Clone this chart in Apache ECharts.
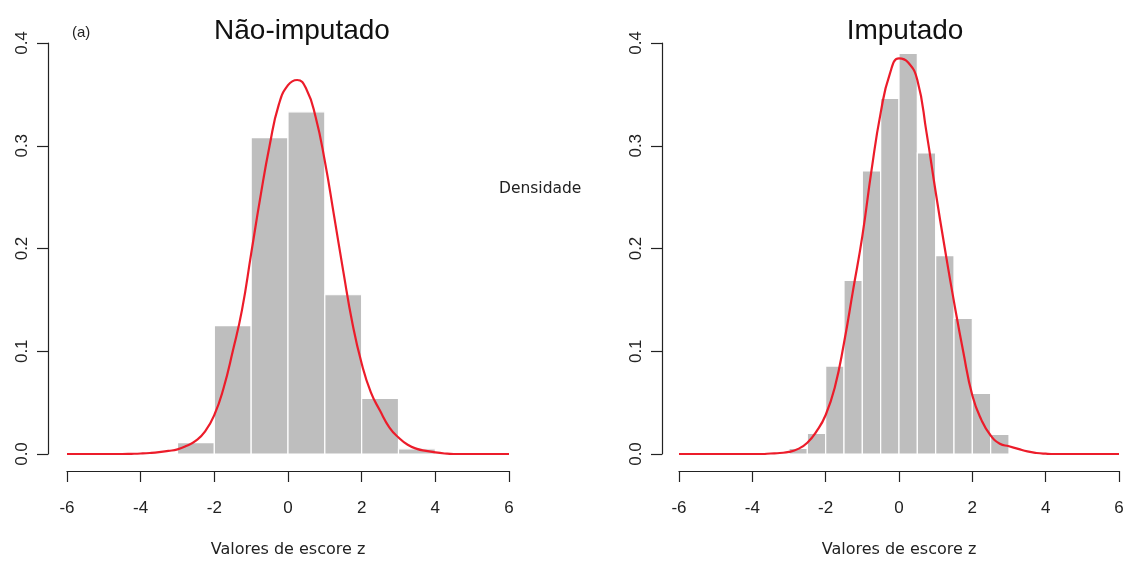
<!DOCTYPE html>
<html><head><meta charset="utf-8">
<script src="https://cdn.jsdelivr.net/npm/echarts@6/dist/echarts.min.js"></script>
<style>html,body{margin:0;padding:0;background:#fff}#c{width:1128px;height:563px}</style>
</head><body><div id="c"></div>
<script>
// Histogram bins [from, to] and densities – left panel (Não-imputado)
const leftBinEdges = [-3, -2, -1, 0, 1, 2, 3, 4];
const leftDensity = [0.011, 0.125, 0.308, 0.333, 0.155, 0.054, 0.005];
// Histogram bins – right panel (Imputado)
const rightBinEdges = [-3, -2.5, -2, -1.5, -1, -0.5, 0, 0.5, 1, 1.5, 2, 2.5, 3];
const rightDensity = [0.0055, 0.020, 0.0856, 0.169, 0.2755, 0.346, 0.390, 0.293, 0.193, 0.132, 0.059, 0.019];
// Density curves (x, y)
const leftCurveX = [-6, -4.5, -4.25, -4, -3.75, -3.5, -3.25, -3, -2.75, -2.5, -2.25, -2, -1.75, -1.5, -1.25, -1, -0.75, -0.5, -0.25, 0, 0.25, 0.5, 0.75, 1, 1.25, 1.5, 1.75, 2, 2.25, 2.5, 2.75, 3, 3.25, 3.5, 3.75, 4, 4.25, 4.5, 6];
const leftCurveY = [0, 0, 0.0002, 0.0005, 0.001, 0.0018, 0.003, 0.0045, 0.008, 0.013, 0.022, 0.038, 0.064, 0.100, 0.140, 0.195, 0.250, 0.300, 0.340, 0.359, 0.364, 0.355, 0.328, 0.285, 0.232, 0.178, 0.127, 0.088, 0.060, 0.042, 0.026, 0.016, 0.009, 0.005, 0.003, 0.0015, 0.0005, 0, 0];
const rightCurveX = [-6, -3.75, -3.5, -3.25, -3, -2.75, -2.5, -2.25, -2, -1.75, -1.5, -1.25, -1, -0.75, -0.5, -0.25, 0, 0.25, 0.5, 0.75, 1, 1.25, 1.5, 1.75, 2, 2.25, 2.5, 2.75, 3, 3.25, 3.5, 3.75, 4, 4.25, 6];
const rightCurveY = [0, 0, 0.0005, 0.001, 0.002, 0.005, 0.011, 0.022, 0.038, 0.065, 0.108, 0.160, 0.212, 0.276, 0.332, 0.370, 0.385, 0.381, 0.364, 0.313, 0.255, 0.200, 0.148, 0.100, 0.057, 0.033, 0.018, 0.010, 0.0075, 0.005, 0.0025, 0.001, 0.0003, 0, 0];
// Ticks and texts
const xTicks = [-6, -4, -2, 0, 2, 4, 6];
const yTicks = [0, 0.1, 0.2, 0.3, 0.4];
const titles = ['Não-imputado', 'Imputado'];
const xName = 'Valores de escore z';

function bins(edges, dens) { return dens.map((d, i) => [edges[i], edges[i + 1], d]); }
function pts(xs, ys) { return xs.map((x, i) => [x, ys[i]]); }

const FONT = 'Liberation Sans, Arial, sans-serif';
const FONT2 = 'DejaVu Sans, sans-serif';
const grids = [
  { left: 67, width: 442, top: 43, height: 411 },
  { left: 679, width: 440, top: 43, height: 411 }
];
const yOffsets = [19, 17];

function xAxis(i) {
  return {
    gridIndex: i, type: 'value', min: xTicks[0], max: xTicks[xTicks.length - 1], interval: 2, offset: 17,
    axisLine: { show: true, onZero: false, lineStyle: { color: '#222', width: 1.2 } },
    axisTick: { show: true, length: 11, inside: false, lineStyle: { color: '#222', width: 1.2 } },
    axisLabel: { color: '#222', fontSize: 17, fontFamily: FONT, margin: 29 },
    splitLine: { show: false },
    name: xName, nameLocation: 'middle', nameGap: 71,
    nameTextStyle: { color: '#222', fontSize: 16, fontFamily: FONT2 }
  };
}
function yAxis(i) {
  return {
    gridIndex: i, type: 'value', min: yTicks[0], max: yTicks[yTicks.length - 1], interval: 0.1, offset: yOffsets[i],
    axisLine: { show: true, onZero: false, lineStyle: { color: '#222', width: 1.2 } },
    axisTick: { show: true, length: 11, lineStyle: { color: '#222', width: 1.2 } },
    axisLabel: { color: '#222', fontSize: 17, fontFamily: FONT, rotate: 90, margin: 17,
      formatter: v => v.toFixed(1) },
    splitLine: { show: false }
  };
}
function histSeries(i, data) {
  return {
    type: 'custom', xAxisIndex: i, yAxisIndex: i, data: data,
    renderItem: function (params, api) {
      const p0 = api.coord([api.value(0), api.value(2)]);
      const p1 = api.coord([api.value(1), 0]);
      return { type: 'rect', shape: { x: p0[0], y: p0[1], width: p1[0] - p0[0], height: p1[1] - p0[1] },
        style: { fill: '#bebebe', stroke: '#ffffff', lineWidth: 1.2 } };
    },
    encode: { x: [0, 1], y: 2 }, z: 1
  };
}
function curveSeries(i, data) {
  return { type: 'line', xAxisIndex: i, yAxisIndex: i, data: data, smooth: 0.5, showSymbol: false,
    lineStyle: { color: '#ec1c2a', width: 2.2 }, z: 3 };
}

const chart = echarts.init(document.getElementById('c'), null, { renderer: 'canvas' });
chart.setOption({
  backgroundColor: '#ffffff',
  animation: false,
  title: [
    { text: titles[0], left: 297, top: 12, textAlign: 'center', textStyle: { fontSize: 28, fontWeight: 'normal', color: '#111', fontFamily: FONT } },
    { text: titles[1], left: 900, top: 12, textAlign: 'center', textStyle: { fontSize: 28, fontWeight: 'normal', color: '#111', fontFamily: FONT } }
  ],
  grid: grids,
  xAxis: [xAxis(0), xAxis(1)],
  yAxis: [yAxis(0), yAxis(1)],
  series: [
    histSeries(0, bins(leftBinEdges, leftDensity)),
    curveSeries(0, pts(leftCurveX, leftCurveY)),
    histSeries(1, bins(rightBinEdges, rightDensity)),
    curveSeries(1, pts(rightCurveX, rightCurveY))
  ],
  graphic: [
    { type: 'text', left: 72, top: 25, style: { text: '(a)', fontSize: 15, fontFamily: FONT, fill: '#222' } },
    { type: 'text', left: 499, top: 181, style: { text: 'Densidade', fontSize: 15.5, fontFamily: FONT2, fill: '#222' } }
  ]
});
</script>
</body></html>
